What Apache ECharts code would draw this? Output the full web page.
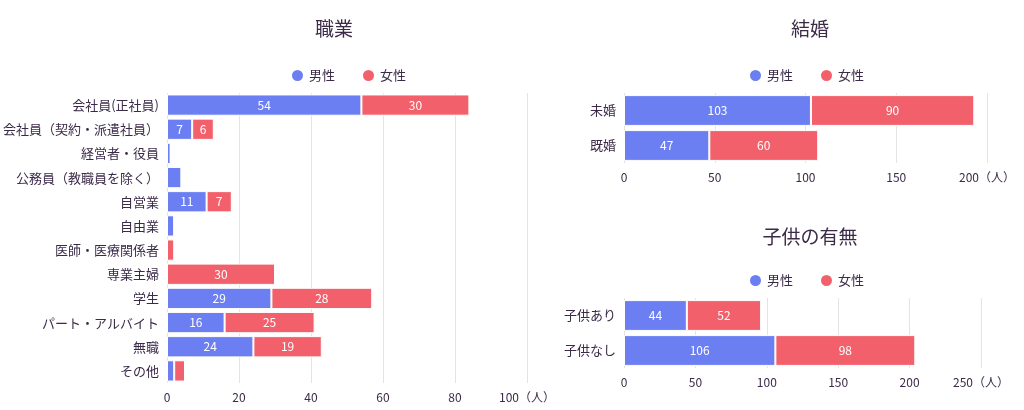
<!DOCTYPE html>
<html><head><meta charset="utf-8">
<script src="https://cdn.jsdelivr.net/npm/echarts@6/dist/echarts.min.js"></script>
<style>body{margin:0}#c{width:1024px;height:410px}</style></head>
<body><div id="c"></div>
<script>
const jobCats = ['会社員(正社員)','会社員（契約・派遣社員）','経営者・役員','公務員（教職員を除く）','自営業','自由業','医師・医療関係者','専業主婦','学生','パート・アルバイト','無職','その他'];
const jobMale = [54,7,1,4,11,2,0,0,29,16,24,2];
const jobFemale = [30,6,0,0,7,0,2,30,28,25,19,3];
const marCats = ['未婚','既婚'];
const marMale = [103,47];
const marFemale = [90,60];
const kidCats = ['子供あり','子供なし'];
const kidMale = [44,106];
const kidFemale = [52,98];

const BLUE = '#6b7ff2', RED = '#f2616b', TXT = '#3b2a48';
const font = '"Noto Sans CJK JP", sans-serif';

function yAxis(i, cats) {
  return { gridIndex: i, type: 'category', data: cats, inverse: true,
    axisLine: { show: false }, axisTick: { show: false },
    axisLabel: { color: TXT, fontSize: 13, fontFamily: font, margin: 8 } };
}
function xAxis(i, max, interval) {
  return { gridIndex: i, type: 'value', min: 0, max: max, interval: interval,
    axisLine: { show: false }, axisTick: { show: false },
    splitLine: { lineStyle: { color: '#e4e4e4' } },
    axisLabel: { color: TXT, fontSize: 12, fontFamily: font,
      formatter: v => v === max ? v + '（人）' : v } };
}
function bars(i, male, female) {
  const lab = { show: true, color: '#fff', fontSize: 12, fontFamily: font,
    formatter: p => p.value >= 5 ? p.value : '' };
  const st = { borderColor: '#fff', borderWidth: 1 };
  return [
    { name: '男性', type: 'bar', stack: 's' + i, xAxisIndex: i, yAxisIndex: i, data: male,
      barWidth: '88%', itemStyle: Object.assign({ color: BLUE }, st), label: lab },
    { name: '女性', type: 'bar', stack: 's' + i, xAxisIndex: i, yAxisIndex: i, data: female,
      barWidth: '88%', itemStyle: Object.assign({ color: RED }, st), label: lab }
  ];
}
const titleStyle = { color: TXT, fontSize: 19, fontWeight: 'normal', fontFamily: font };
const legendBase = { icon: 'circle', itemWidth: 13, itemHeight: 13, itemGap: 26,
  textStyle: { color: TXT, fontSize: 13, fontFamily: font }, data: ['男性','女性'] };

const chart = echarts.init(document.getElementById('c'));
chart.setOption({
  animation: false,
  title: [
    { text: '職業', left: 329, top: 14, textAlign: 'center', textStyle: titleStyle },
    { text: '結婚', left: 805, top: 14, textAlign: 'center', textStyle: titleStyle },
    { text: '子供の有無', left: 805, top: 222, textAlign: 'center', textStyle: titleStyle }
  ],
  legend: [
    Object.assign({ left: 285, top: 63 }, legendBase),
    Object.assign({ left: 743, top: 63 }, legendBase),
    Object.assign({ left: 743, top: 268 }, legendBase)
  ],
  grid: [
    { left: 163, right: 497, top: 93, height: 290 },
    { left: 624, right: 37, top: 93, height: 70 },
    { left: 624, right: 43, top: 298, height: 70 }
  ],
  xAxis: [xAxis(0, 100, 20), xAxis(1, 200, 50), xAxis(2, 250, 50)],
  yAxis: [yAxis(0, jobCats), yAxis(1, marCats), yAxis(2, kidCats)],
  series: [].concat(bars(0, jobMale, jobFemale), bars(1, marMale, marFemale), bars(2, kidMale, kidFemale))
});
</script></body></html>
